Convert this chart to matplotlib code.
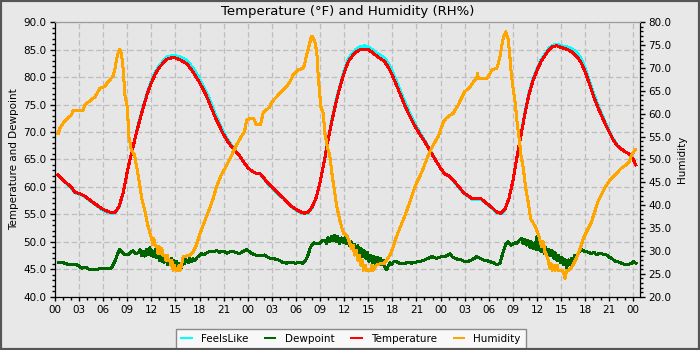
import matplotlib
matplotlib.use("Agg")
import matplotlib.pyplot as plt
from matplotlib.ticker import MultipleLocator, FuncFormatter, FormatStrFormatter
from matplotlib.patches import Rectangle

# ---- data (hours since first midnight) ----
temp_hours = [0.4, 1.0, 1.5, 2.0, 2.5, 3.0, 3.5, 4.0, 5.0, 6.0, 6.5, 7.0, 7.5, 8.0, 8.5, 9.0, 9.5,
              10.0, 10.5, 11.0, 11.5, 12.0, 12.5, 13.0, 13.5, 14.0, 14.5, 15.0, 15.5, 16.0, 16.5,
              17.0, 17.5, 18.0, 18.5, 19.0, 19.5, 20.0, 20.5, 21.0, 21.5, 22.0, 22.5, 23.0, 23.5,
              24.0, 24.5, 25.0, 25.5, 26.0, 26.5, 27.0, 27.5, 28.0, 28.5, 29.0, 29.5, 30.0, 30.5,
              31.0, 31.5, 32.0, 32.5, 33.0, 33.5, 34.0, 34.5, 35.0, 35.5, 36.0, 36.5, 37.0, 37.5,
              38.0, 38.5, 39.0, 39.5, 40.0, 40.5, 41.0, 41.5, 42.0, 42.5, 43.0, 43.5, 44.0, 44.5,
              45.0, 45.5, 46.0, 46.5, 47.0, 47.5, 48.0, 48.5, 49.0, 49.5, 50.0, 50.5, 51.0, 51.5,
              52.0, 52.5, 53.0, 53.5, 54.0, 54.5, 55.0, 55.5, 56.0, 56.5, 57.0, 57.5, 58.0, 58.5,
              59.0, 59.5, 60.0, 60.5, 61.0, 61.5, 62.0, 62.5, 63.0, 63.5, 64.0, 64.5, 65.0, 65.5,
              66.0, 66.5, 67.0, 67.5, 68.0, 68.5, 69.0, 69.5, 70.0, 70.5, 71.0, 71.5, 72.0, 72.3]

temperature = [62.2, 61.3, 60.6, 60.0, 59.0, 58.8, 58.5, 58.0, 56.9, 55.9, 55.6, 55.3, 55.4, 56.5, 59.0, 62.8, 66.0,
               69.0, 71.9, 74.5, 77.0, 79.0, 80.6, 81.8, 82.6, 83.3, 83.5, 83.5, 83.2, 82.8, 82.3,
               81.3, 80.2, 79.0, 77.6, 76.1, 74.3, 72.5, 71.0, 69.5, 68.3, 67.3, 66.4, 65.6, 64.5,
               63.5, 62.9, 62.5, 62.5, 61.6, 60.7, 60.0, 59.2, 58.5, 57.9, 57.1, 56.4, 55.9, 55.5,
               55.2, 55.4, 56.3, 58.0, 60.8, 64.5, 68.5, 72.2, 75.5, 78.3, 80.8, 82.8, 83.8, 84.6,
               85.0, 85.1, 85.0, 84.5, 83.9, 83.4, 82.9, 81.8, 80.3, 78.6, 76.8, 75.0, 73.4, 71.9,
               70.6, 69.4, 68.3, 67.1, 65.8, 64.6, 63.4, 62.4, 62.0, 61.4, 60.5, 59.6, 58.8, 58.3,
               57.8, 57.8, 57.9, 57.3, 56.7, 56.1, 55.4, 55.2, 55.9, 57.8, 61.0, 65.3, 69.3, 73.3,
               76.8, 79.3, 81.2, 82.8, 83.9, 85.0, 85.6, 85.7, 85.4, 85.2, 84.9, 84.4, 83.7, 82.6,
               81.0, 78.9, 76.7, 74.8, 73.1, 71.5, 70.0, 68.5, 67.5, 66.9, 66.4, 66.0, 65.0, 64.0]

feels_like = [62.1, 61.2, 60.5, 59.9, 58.9, 58.7, 58.4, 57.9, 56.8, 55.7, 55.4, 55.2, 55.3, 56.4, 59.0, 62.8, 66.0,
              69.1, 72.1, 74.8, 77.2, 79.3, 80.9, 82.1, 83.0, 83.7, 83.9, 83.9, 83.7, 83.4, 82.9,
              82.0, 80.9, 79.7, 78.3, 76.8, 75.0, 73.1, 71.5, 69.9, 68.6, 67.5, 66.5, 65.6, 64.5,
              63.5, 62.9, 62.5, 62.5, 61.5, 60.6, 59.9, 59.1, 58.4, 57.8, 57.0, 56.3, 55.8, 55.4,
              55.1, 55.3, 56.2, 58.0, 60.8, 64.6, 68.7, 72.5, 75.8, 78.6, 81.2, 83.2, 84.3, 85.1,
              85.5, 85.7, 85.5, 85.0, 84.4, 84.0, 83.5, 82.5, 81.0, 79.3, 77.5, 75.7, 74.0, 72.4,
              71.0, 69.7, 68.5, 67.2, 65.9, 64.6, 63.4, 62.4, 62.0, 61.3, 60.4, 59.5, 58.7, 58.2,
              57.7, 57.7, 57.8, 57.2, 56.6, 56.0, 55.3, 55.1, 55.8, 57.8, 61.0, 65.4, 69.5, 73.6,
              77.1, 79.6, 81.5, 83.1, 84.2, 85.3, 85.8, 86.0, 85.7, 85.6, 85.4, 85.0, 84.4, 83.3,
              81.7, 79.5, 77.3, 75.3, 73.5, 71.8, 70.2, 68.7, 67.6, 66.9, 66.4, 66.0, 65.0, 64.0]

dew_hours = [0.4, 0.8, 1.2, 1.85, 2.7, 3.0, 3.3, 3.8, 4.3, 4.8, 5.2, 5.6, 6.0, 6.5, 7.0, 7.45, 7.8, 8.07,
             8.3, 8.5, 8.8, 9.1, 9.4, 9.7, 10.0, 10.35, 10.6, 10.8, 11.0, 11.2, 11.4, 11.6, 11.8,
             12.0, 12.1, 12.3, 12.5, 12.6, 12.8, 13.0, 13.1, 13.3, 13.45, 13.6, 13.8, 14.0, 14.1,
             14.3, 14.5, 14.6, 14.8, 15.0, 15.1, 15.3, 15.5, 15.75, 15.95, 16.1, 16.3, 16.6, 16.8,
             17.0, 17.2, 17.4, 17.7, 18.0, 18.2, 18.5, 18.9, 19.3, 19.7, 20.1, 20.5, 21.0, 21.4,
             21.8, 22.2, 22.6, 23.0, 23.5, 23.85, 24.2, 24.6, 24.9, 25.5, 26.1, 26.5, 26.75, 27.3,
             27.8, 28.3, 28.8, 29.3, 29.9, 30.4, 30.9, 31.2, 31.5, 31.8, 32.2, 32.6, 33.0, 33.3,
             33.6, 33.8, 34.0, 34.2, 34.4, 34.6, 34.8, 35.0, 35.2, 35.4, 35.6, 35.9, 36.1, 36.3,
             36.5, 36.7, 36.9, 37.1, 37.3, 37.5, 37.7, 37.9, 38.1, 38.3, 38.5, 38.7, 38.9, 39.1,
             39.3, 39.5, 39.7, 39.9, 40.1, 40.3, 40.5, 40.7, 40.9, 41.1, 41.3, 41.5, 41.7, 41.9,
             42.1, 42.5, 43.0, 43.6, 44.0, 44.4, 45.2, 45.6, 46.0, 46.5, 46.9, 47.5, 48.1, 48.5,
             49.2, 49.5, 49.8, 50.2, 50.6, 51.0, 51.4, 52.0, 52.5, 52.9, 53.3, 53.7, 54.1, 54.6,
             55.0, 55.4, 55.8, 56.1, 56.4, 56.8, 57.2, 57.5, 57.8, 58.1, 58.3, 58.5, 58.7, 58.9,
             59.1, 59.3, 59.5, 59.7, 59.9, 60.0, 60.1, 60.3, 60.5, 60.7, 60.9, 61.1, 61.3, 61.5,
             61.7, 61.9, 62.1, 62.3, 62.5, 62.7, 62.9, 63.1, 63.3, 63.5, 63.7, 63.9, 64.1, 64.3,
             64.5, 64.7, 64.9, 65.2, 65.6, 65.9, 66.2, 66.5, 66.8, 67.1, 67.4, 67.7, 68.0, 68.4,
             68.7, 69.0, 69.3, 69.6, 69.9, 70.2, 70.5, 70.9, 71.4, 71.8, 72.0, 72.3]

dewpoint = [46.3, 46.3, 46.1, 45.8, 45.8, 45.6, 45.2, 45.4, 44.9, 45.0, 44.9, 45.2, 45.2, 45.1, 45.2, 46.4, 47.8, 48.6,
            48.2, 47.9, 47.6, 47.6, 48.0, 48.4, 47.8, 48.0, 48.6, 47.5, 48.3, 47.4, 48.7, 47.6, 48.9,
            47.5, 48.4, 47.3, 48.6, 47.2, 48.3, 46.6, 47.8, 46.4, 47.5, 46.3, 47.6, 45.9, 46.9,
            45.8, 46.9, 45.5, 46.6, 45.3, 46.5, 44.8, 46.0, 45.3, 46.9, 46.0, 46.8, 46.2, 47.0,
            46.4, 46.9, 46.6, 47.2, 47.5, 47.9, 47.6, 48.0, 48.3, 48.2, 48.4, 48.1, 48.3, 47.9,
            48.2, 48.2, 48.0, 47.9, 48.3, 48.6, 48.2, 47.8, 47.6, 47.5, 47.6, 47.2, 47.0, 46.9,
            46.7, 46.3, 46.1, 46.3, 46.1, 46.2, 46.1, 46.6, 47.6, 49.0, 49.8, 49.6, 49.7, 50.2,
            50.3, 49.7, 50.8, 50.0, 51.0, 50.2, 51.1, 50.0, 51.0, 49.6, 50.7, 49.8, 50.8, 49.6,
            50.6, 49.2, 50.0, 48.6, 49.6, 48.4, 49.3, 47.6, 48.8, 47.3, 48.4, 47.0, 48.0, 46.4,
            47.6, 46.2, 47.4, 46.0, 47.2, 46.2, 47.0, 45.8, 46.6, 45.2, 44.9, 45.7, 46.2, 45.8,
            46.3, 46.4, 46.0, 46.1, 46.3, 46.1, 46.4, 46.5, 46.7, 47.0, 47.3, 47.0, 47.3, 47.3,
            47.8, 47.2, 47.0, 46.8, 46.7, 46.4, 46.4, 46.8, 47.3, 47.0, 46.7, 46.6, 46.4, 46.2,
            45.8, 46.1, 48.2, 49.5, 50.0, 49.4, 49.8, 49.7, 50.3, 50.6, 49.6, 50.5, 49.4, 50.2,
            49.0, 50.0, 48.8, 49.8, 48.6, 51.0, 48.6, 49.5, 48.2, 49.2, 47.9, 49.0, 47.6, 48.6,
            47.4, 48.4, 47.0, 48.0, 46.6, 47.6, 46.2, 47.2, 45.8, 46.8, 45.2, 46.7, 45.9, 47.0,
            46.4, 47.5, 47.2, 48.0, 48.6, 48.3, 48.2, 48.0, 47.9, 48.1, 47.6, 47.9, 47.9, 47.6,
            47.6, 47.2, 47.0, 46.6, 46.4, 46.3, 46.1, 45.9, 45.9, 46.1, 46.4, 46.1]

hum_hours = [0.4, 0.6, 1.0, 1.6, 2.05, 2.25, 3.5, 3.7, 4.5, 5.0, 5.6, 6.2, 6.6, 7.2, 7.45, 7.65, 7.9, 8.07,
             8.3, 8.5, 8.7, 9.0, 9.2, 9.5, 9.9, 10.35, 10.8, 11.2, 11.6, 12.0, 12.2, 12.3, 12.45,
             12.7, 12.8, 12.95, 13.05, 13.3, 13.4, 13.7, 13.8, 13.95, 14.1, 14.3, 14.4, 14.55, 14.7,
             14.9, 15.0, 15.3, 15.45, 15.6, 15.8, 15.95, 16.8, 17.2, 17.6, 18.0, 18.45, 19.1, 19.7,
             20.1, 20.7, 21.4, 22.0, 22.6, 23.2, 23.6, 23.85, 24.3, 24.7, 24.9, 25.0, 25.6, 25.9,
             26.3, 26.75, 27.0, 27.6, 28.2, 28.8, 29.25, 29.65, 30.3, 30.9, 31.1, 31.3, 31.5, 31.9,
             32.1, 32.4, 32.6, 32.8, 33.1, 33.4, 33.6, 34.0, 34.2, 34.5, 34.8, 35.05, 35.5, 35.9,
             36.3, 36.7, 36.9, 37.1, 37.3, 37.5, 37.7, 37.9, 38.1, 38.25, 38.4, 38.6, 38.75, 39.3,
             39.45, 39.6, 40.0, 40.6, 41.0, 41.7, 42.1, 42.5, 43.1, 43.6, 44.2, 44.6, 45.0, 45.6,
             46.0, 46.5, 47.1, 47.7, 48.3, 48.5, 48.7, 49.2, 49.6, 49.8, 50.2, 50.6, 51.0, 51.7,
             52.1, 52.5, 52.6, 52.7, 53.8, 54.4, 55.0, 55.2, 55.4, 55.6, 55.8, 56.1, 56.4, 56.6,
             56.8, 57.0, 57.3, 57.5, 57.7, 57.9, 58.0, 58.3, 58.6, 58.9, 59.2, 59.8, 60.2, 60.6,
             60.8, 61.0, 61.2, 61.4, 61.6, 61.75, 61.9, 62.1, 62.25, 62.5, 62.65, 63.2, 63.5, 63.7,
             64.0, 64.5, 64.9, 65.4, 65.8, 66.2, 66.8, 67.2, 67.6, 68.0, 68.5, 69.1, 69.7, 70.5,
             71.4, 71.8, 72.2, 72.3]

humidity = [55.7, 56.8, 57.9, 59.0, 59.7, 60.8, 60.8, 61.9, 63.0, 63.7, 65.6, 65.9, 67.0, 68.1, 69.6, 71.7, 73.6, 74.1,
            72.8, 69.6, 64.1, 61.5, 55.0, 52.1, 51.0, 46.6, 41.5, 38.6, 35.3, 32.8, 31.3, 32.8, 31.3,
            30.9, 29.5, 31.0, 29.5, 30.6, 29.1, 29.1, 28.0, 29.1, 28.0, 28.0, 26.9, 28.0, 25.8,
            26.9, 25.8, 25.8, 26.9, 25.8, 27.3, 28.7, 29.1, 29.8, 31.3, 33.5, 35.7, 38.6, 41.5,
            44.0, 46.6, 48.8, 51.0, 53.2, 55.0, 56.1, 58.6, 59.0, 59.0, 58.3, 57.7, 57.7, 60.1,
            60.8, 61.5, 62.6, 63.7, 64.8, 65.9, 67.0, 68.5, 69.6, 69.9, 71.0, 72.8, 73.9, 76.8,
            76.8, 75.4, 73.2, 67.4, 61.5, 60.1, 55.7, 52.1, 51.0, 46.6, 43.0, 40.0, 36.4, 33.9,
            33.5, 31.7, 30.6, 31.3, 29.1, 30.2, 28.0, 29.1, 26.9, 28.0, 25.8, 26.9, 25.8, 25.8,
            26.9, 25.8, 26.9, 27.3, 27.3, 29.1, 30.9, 33.1, 35.7, 37.9, 40.8, 43.0, 44.8, 47.0,
            48.8, 51.0, 53.2, 55.0, 57.9, 58.6, 59.0, 59.7, 60.1, 60.8, 61.9, 63.4, 64.8, 65.9,
            67.0, 67.7, 68.8, 67.7, 67.7, 69.6, 69.9, 71.0, 72.5, 74.6, 76.5, 77.9, 76.5, 73.2,
            68.8, 65.9, 62.3, 58.6, 55.7, 52.8, 51.0, 48.1, 43.7, 40.8, 37.1, 35.3, 33.5, 30.9,
            32.0, 29.8, 29.1, 28.0, 26.2, 27.3, 25.8, 26.9, 25.8, 26.9, 25.8, 25.8, 24.0, 25.8,
            25.8, 26.9, 28.4, 30.6, 32.8, 34.2, 36.4, 38.6, 40.8, 42.2, 44.0, 45.5, 46.6, 48.1,
            49.2, 51.0, 52.1, 52.1]

# ---- figure ----
BG = "#e8e8e8"
fig = plt.figure(figsize=(7, 3.5), dpi=100, facecolor=BG)
ax = fig.add_axes([55 / 700, 1 - 296.7 / 350, 585 / 700, 274.5 / 350])
ax.set_facecolor("#e6e6e6")
ax2 = ax.twinx()

LW = 1.45
line_kw = dict(lw=LW, antialiased=False, solid_joinstyle="round")
h_feels, = ax.plot(temp_hours, feels_like, color="#00ffff", label="FeelsLike", **line_kw)
h_dew, = ax.plot(dew_hours, dewpoint, color="#006400", label="Dewpoint", **line_kw)
h_temp, = ax.plot(temp_hours, temperature, color="#ff0000", label="Temperature", **line_kw)
h_hum, = ax2.plot(hum_hours, humidity, color="#ffa500", label="Humidity", **line_kw)

# axes ranges and ticks
ax.set_xlim(0, 72.83)
ax.set_ylim(40, 90)
ax2.set_ylim(20, 80)

ax.xaxis.set_major_locator(MultipleLocator(3))
ax.xaxis.set_minor_locator(MultipleLocator(1))
ax.xaxis.set_major_formatter(FuncFormatter(lambda v, p: "%02d" % (int(round(v)) % 24)))
ax.yaxis.set_major_locator(MultipleLocator(5))
ax.yaxis.set_minor_locator(MultipleLocator(1))
ax.yaxis.set_major_formatter(FormatStrFormatter("%.1f"))
ax2.yaxis.set_major_locator(MultipleLocator(5))
ax2.yaxis.set_minor_locator(MultipleLocator(1))
ax2.yaxis.set_major_formatter(FormatStrFormatter("%.1f"))

TICK_FS = 7.5
ax.tick_params(axis="both", which="major", labelsize=TICK_FS, length=3.6, width=1, color="black", pad=2.5)
ax.tick_params(axis="both", which="minor", length=2, width=1, color="black")
ax.tick_params(axis="x", which="major", length=3, pad=3)
ax2.tick_params(axis="y", which="major", labelsize=TICK_FS, length=3.6, width=1, color="black", pad=2.5)
ax2.tick_params(axis="y", which="minor", length=2, width=1, color="black")

# grid
ax.grid(True, which="major", color="#bdbdbd", linestyle=(0, (4.3, 2.2)), linewidth=0.9)
ax.set_axisbelow(True)

# spines
for a in (ax, ax2):
    a.spines["top"].set_color("#9a9a9a")
    a.spines["left"].set_color("black")
    a.spines["right"].set_color("black")
    a.spines["bottom"].set_color("black")

ax.set_title("Temperature (\u00b0F) and Humidity (RH%)", fontsize=9.5, pad=5)
ax.set_ylabel("Temperature and Dewpoint", fontsize=7.5, labelpad=3)
ax2.set_ylabel("Humidity", fontsize=7.5, labelpad=4)

leg = ax.legend([h_feels, h_dew, h_temp, h_hum],
                ["FeelsLike", "Dewpoint", "Temperature", "Humidity"],
                loc="upper center", bbox_to_anchor=(0.506, -0.098), ncol=4,
                fontsize=7.5, frameon=True, fancybox=False, framealpha=1,
                facecolor="#f8f8f8", edgecolor="#8a8a8a",
                handlelength=1.0, handletextpad=0.9, columnspacing=1.6,
                borderpad=0.5)
leg.get_frame().set_linewidth(1.0)

# outer frame of the image
fig.patches.append(Rectangle((0, 0), 1, 1, transform=fig.transFigure, fill=False,
                             edgecolor="#555555", linewidth=3))

fig.savefig("out.png", dpi=100, facecolor=BG)
